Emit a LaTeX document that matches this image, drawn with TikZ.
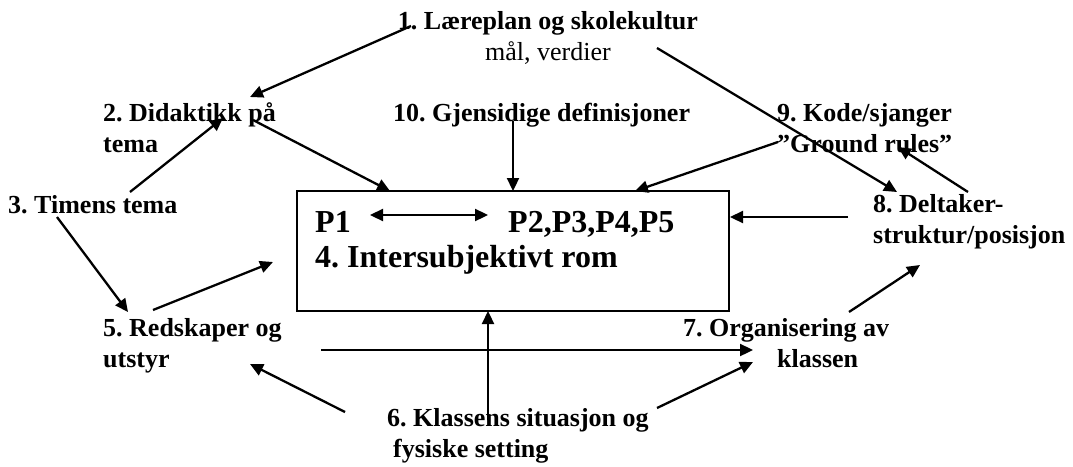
\documentclass[tikz,border=0pt]{standalone}
\usepackage{fontspec}
\setmainfont{Liberation Serif}
\usetikzlibrary{arrows.meta}
\frenchspacing
\begin{document}
\begin{tikzpicture}[x=1pt,y=-1pt,
  lbl/.style={inner sep=0pt, anchor=base west, font=\fontsize{26pt}{31pt}\selectfont\bfseries\frenchspacing},
  big/.style={inner sep=0pt, anchor=base west, font=\fontsize{32pt}{38pt}\selectfont\bfseries\frenchspacing},
  conn/.style={line width=2.3pt, -{Triangle[length=13pt,width=12pt]}},
  both/.style={line width=2.3pt, {Triangle[length=13pt,width=12pt]}-{Triangle[length=13pt,width=12pt]}},
  frame/.style={draw, line width=2.3pt, minimum width=432pt, minimum height=120pt, inner sep=0pt}]
\useasboundingbox (0,0) rectangle (1073,466);

% central room
\node[frame] (room) at (513,251) {};
\node[big] (p1) at (315,232) {P1};
\node[big] (pall) at (508,232) {P2,P3,P4,P5};
\node[big] (n4) at (315,267) {4. Intersubjektivt rom};

% surrounding factors (multi-line texts sit on their last line's baseline)
\node[lbl, anchor=base, align=center] (n1) at (548,60) {1. Læreplan og skolekultur\\{\mdseries mål, verdier}};
\node[lbl, align=left] (n2) at (103,152) {2. Didaktikk på\\tema};
\node[lbl] (n3) at (8,213) {3. Timens tema};
\node[lbl, align=left] (n5) at (103,367) {5. Redskaper og\\utstyr};
\node[lbl, align=left] (n6) at (387,457) {6. Klassens situasjon og\\\hspace*{6pt}fysiske setting};
\node[lbl] (n7a) at (683,336) {7. Organisering av};
\node[lbl] (n7b) at (777,367) {klassen};
\node[lbl, align=left] (n8) at (873,243) {8. Deltaker-\\struktur/posisjon};
\node[lbl, align=left] (n9) at (777,152) {9. Kode/sjanger\\”Ground rules”};
\node[lbl] (n10) at (393,121) {10. Gjensidige definisjoner};

% connector end points
\coordinate (c1s) at (411,26);   \coordinate (c1e) at (250,97);
\coordinate (c2s) at (657,48);   \coordinate (c2e) at (897,192);
\coordinate (c3s) at (253,120);  \coordinate (c3e) at (390,191);
\coordinate (c4s) at (130,192);  \coordinate (c4e) at (223,118);
\coordinate (c5s) at (57,217);   \coordinate (c5e) at (128,312);
\coordinate (c6s) at (153,310);  \coordinate (c6e) at (273,262);
\coordinate (c7s) at (513,121);  \coordinate (c7e) at (513,191);
\coordinate (c8s) at (778,142);  \coordinate (c8e) at (635,191);
\coordinate (c9s) at (848,217);  \coordinate (c9e) at (730,217);
\coordinate (c10s) at (968,192); \coordinate (c10e) at (898,147);
\coordinate (c11s) at (849,312); \coordinate (c11e) at (920,265);
\coordinate (c12s) at (321,350); \coordinate (c12e) at (753,350);
\coordinate (c13s) at (345,412); \coordinate (c13e) at (250,364);
\coordinate (c14s) at (657,408); \coordinate (c14e) at (753,362);
\coordinate (c15s) at (488,420); \coordinate (c15e) at (488,311);
\coordinate (c16s) at (370,215); \coordinate (c16e) at (488,215);

% connectors
\draw[conn] (c1s) -- (c1e);
\draw[conn] (c2s) -- (c2e);
\draw[conn] (c3s) -- (c3e);
\draw[conn] (c4s) -- (c4e);
\draw[conn] (c5s) -- (c5e);
\draw[conn] (c6s) -- (c6e);
\draw[conn] (c7s) -- (c7e);
\draw[conn] (c8s) -- (c8e);
\draw[conn] (c9s) -- (c9e);
\draw[conn] (c10s) -- (c10e);
\draw[conn] (c11s) -- (c11e);
\draw[conn] (c12s) -- (c12e);
\draw[conn] (c13s) -- (c13e);
\draw[conn] (c14s) -- (c14e);
\draw[conn] (c15s) -- (c15e);
\draw[both] (c16s) -- (c16e);
\end{tikzpicture}
\end{document}
